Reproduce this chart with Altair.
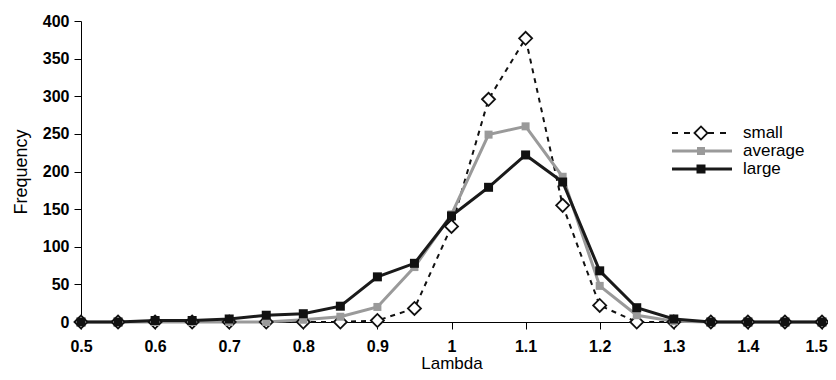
import altair as alt
import pandas as pd

lam = [0.5, 0.55, 0.6, 0.65, 0.7, 0.75, 0.8, 0.85, 0.9, 0.95, 1.0, 1.05, 1.1,
       1.15, 1.2, 1.25, 1.3, 1.35, 1.4, 1.45, 1.5]
small = [0, 0, 0, 0, 0, 0, 0, 0, 2, 18, 127, 296, 377, 155, 22, 0, 0, 0, 0, 0, 0]
average = [0, 0, 0, 0, 0, 0, 3, 7, 20, 73, 143, 249, 260, 193, 48, 9, 1, 0, 0, 0, 0]
large = [0, 0, 2, 2, 4, 9, 11, 21, 60, 78, 141, 179, 222, 186, 68, 19, 4, 0, 0, 0, 0]
series = ["small", "average", "large"]
x_ticks = [0.5, 0.6, 0.7, 0.8, 0.9, 1.0, 1.1, 1.2, 1.3, 1.4, 1.5]
y_ticks = [0, 50, 100, 150, 200, 250, 300, 350, 400]

rows = []
for name, vals in zip(series, [small, average, large]):
    for x, v in zip(lam, vals):
        rows.append({"Lambda": x, "Frequency": v, "series": name})
df = pd.DataFrame(rows)

xs = alt.X("Lambda:Q", scale=alt.Scale(domain=[0.5, 1.5], nice=False, zero=False),
           axis=alt.Axis(values=x_ticks, format="~g", title="Lambda",
                         labelPadding=9, titlePadding=1, titleFontSize=17,
                         labelFlush=False,
                         labelOffset={"condition": {"test": "datum.value > 1.45", "value": -6},
                                      "value": 0}))
ys = alt.Y("Frequency:Q", scale=alt.Scale(domain=[0, 400], nice=False),
           axis=alt.Axis(values=y_ticks, title="Frequency",
                         labelPadding=5, titlePadding=12))

base = alt.Chart(df).encode(x=xs, y=ys)

l_small = base.transform_filter(alt.datum.series == "small").mark_line(
    color="#111", strokeWidth=2, strokeDash=[5, 5], clip=False)
l_avg = base.transform_filter(alt.datum.series == "average").mark_line(
    color="#9a9a9a", strokeWidth=3, clip=False)
l_large = base.transform_filter(alt.datum.series == "large").mark_line(
    color="#1a1a1a", strokeWidth=3, clip=False)

p_small = base.transform_filter(alt.datum.series == "small").mark_point(
    shape="diamond", filled=True, fill="white", stroke="#111", strokeWidth=1.8,
    size=170, opacity=1, clip=False)
p_avg = base.transform_filter(alt.datum.series == "average").mark_point(
    shape="square", filled=True, color="#9a9a9a", size=64, opacity=1, clip=False)
p_large = base.transform_filter(alt.datum.series == "large").mark_point(
    shape="square", filled=True, color="#111", size=81, opacity=1, clip=False)

data_layer = alt.layer(l_small, l_avg, l_large, p_small, p_avg, p_large)

# legend built from the series names
leg = pd.DataFrame({"series": series})
ly = alt.Y("series:N", scale=alt.Scale(domain=series, range=[103, 157]), axis=None)
lbase = alt.Chart(leg).encode(y=ly)
leg_line_small = lbase.transform_filter(alt.datum.series == "small").mark_rule(
    color="#111", strokeWidth=2, strokeDash=[6, 6]).encode(x=alt.value(591), x2=alt.value(651))
leg_line_avg = lbase.transform_filter(alt.datum.series == "average").mark_rule(
    color="#9a9a9a", strokeWidth=3).encode(x=alt.value(591), x2=alt.value(651))
leg_line_large = lbase.transform_filter(alt.datum.series == "large").mark_rule(
    color="#1a1a1a", strokeWidth=3).encode(x=alt.value(591), x2=alt.value(651))
leg_p_small = lbase.transform_filter(alt.datum.series == "small").mark_point(
    shape="diamond", filled=True, fill="white", stroke="#111", strokeWidth=1.8,
    size=170, opacity=1).encode(x=alt.value(620))
leg_p_avg = lbase.transform_filter(alt.datum.series == "average").mark_point(
    shape="square", filled=True, color="#9a9a9a", size=64, opacity=1).encode(x=alt.value(620))
leg_p_large = lbase.transform_filter(alt.datum.series == "large").mark_point(
    shape="square", filled=True, color="#111", size=81, opacity=1).encode(x=alt.value(620))
leg_text = lbase.mark_text(align="left", baseline="middle", font="Liberation Sans",
                           fontSize=17, color="#000").encode(
    x=alt.value(662), text="series:N")

legend_layer = alt.layer(leg_line_small, leg_line_avg, leg_line_large,
                         leg_p_small, leg_p_avg, leg_p_large, leg_text)

chart = alt.layer(data_layer, legend_layer).resolve_scale(
    y="independent"
).resolve_axis(y="independent").properties(
    width=741, height=301,
    autosize=alt.AutoSizeParams(type="none"),
    padding={"left": 73, "top": 13, "right": 6, "bottom": 50},
    background="white",
).configure_view(stroke=None).configure_axis(
    grid=False,
    labelFont="Liberation Sans", labelFontWeight="bold", labelFontSize=16,
    labelColor="#000",
    titleFont="Liberation Sans", titleFontWeight="normal", titleFontSize=18,
    titleColor="#000",
    domainColor="#000", tickColor="#000", tickSize=7, domainWidth=1,
)

chart.save("out.html", embed_options={"renderer": "svg", "actions": False})
